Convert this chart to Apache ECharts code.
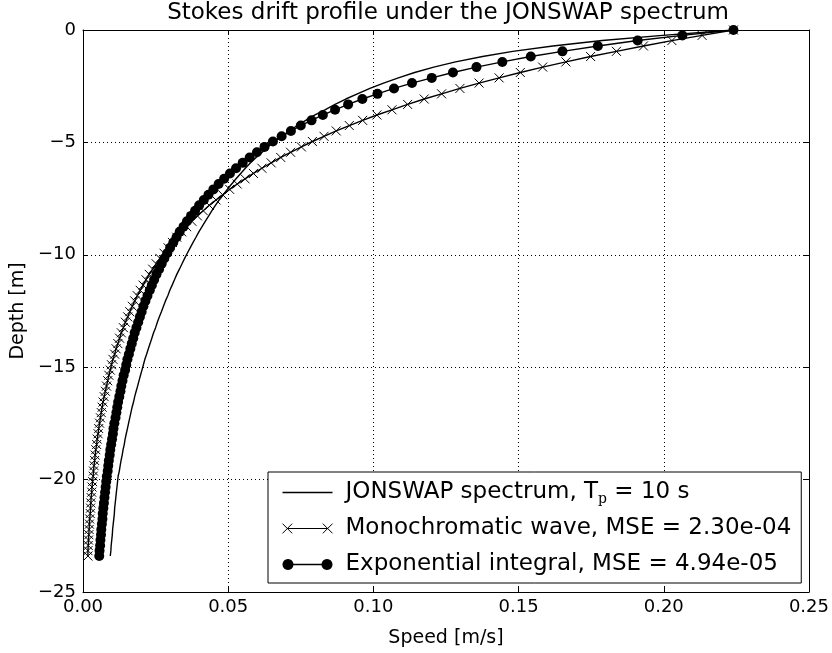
<!DOCTYPE html>
<html>
<head>
<meta charset="utf-8">
<script src="https://cdn.jsdelivr.net/npm/echarts@6/dist/echarts.min.js"></script>
<style>
html,body{margin:0;padding:0;background:#fff;}
#chart{width:832px;height:653px;}
</style>
</head>
<body>
<div id="chart"></div>
<script>
// ---- data ----
const depth = [0, -0.24, -0.47, -0.71, -0.95, -1.18, -1.42, -1.65, -1.89, -2.13,
  -2.36, -2.60, -2.84, -3.07, -3.31, -3.55, -3.78, -4.02, -4.25, -4.49,
  -4.73, -4.96, -5.20, -5.44, -5.67, -5.91, -6.15, -6.38, -6.62, -6.85,
  -7.09, -7.33, -7.56, -7.80, -8.04, -8.27, -8.51, -8.75, -8.98, -9.22,
  -9.45, -9.69, -9.93, -10.16, -10.40, -10.64, -10.87, -11.11, -11.35, -11.58,
  -11.82, -12.05, -12.29, -12.53, -12.76, -13.00, -13.24, -13.47, -13.71, -13.95,
  -14.18, -14.42, -14.65, -14.89, -15.13, -15.36, -15.60, -15.84, -16.07, -16.31,
  -16.55, -16.78, -17.02, -17.25, -17.49, -17.73, -17.96, -18.20, -18.44, -18.67,
  -18.91, -19.15, -19.38, -19.62, -19.85, -20.09, -20.33, -20.56, -20.80, -21.04,
  -21.27, -21.51, -21.75, -21.98, -22.22, -22.45, -22.69, -22.93, -23.16, -23.40];

const jonswap = [0.2240, 0.1996, 0.1788, 0.1618, 0.1480, 0.1376, 0.1283, 0.1208, 0.1142, 0.1086,
  0.1035, 0.0988, 0.0945, 0.0905, 0.0868, 0.0833, 0.0799, 0.0767, 0.0738, 0.0711,
  0.0685, 0.0659, 0.0637, 0.0617, 0.0596, 0.0577, 0.0559, 0.0543, 0.0527, 0.0512,
  0.0497, 0.0483, 0.0469, 0.0456, 0.0444, 0.0433, 0.0421, 0.0410, 0.0399, 0.0389,
  0.0379, 0.0369, 0.0359, 0.0350, 0.0341, 0.0332, 0.0323, 0.0315, 0.0307, 0.0299,
  0.0292, 0.0284, 0.0277, 0.0270, 0.0263, 0.0256, 0.0250, 0.0243, 0.0237, 0.0231,
  0.0225, 0.0219, 0.0213, 0.0208, 0.0203, 0.0198, 0.0193, 0.0188, 0.0183, 0.0178,
  0.0174, 0.0169, 0.0165, 0.0161, 0.0157, 0.0153, 0.0149, 0.0145, 0.0142, 0.0138,
  0.0135, 0.0131, 0.0128, 0.0125, 0.0121, 0.0119, 0.0117, 0.0115, 0.0113, 0.0111,
  0.0109, 0.0108, 0.0106, 0.0104, 0.0102, 0.0101, 0.0099, 0.0097, 0.0096, 0.0094];

const mono = [0.2240, 0.2132, 0.2028, 0.1930, 0.1837, 0.1748, 0.1663, 0.1583, 0.1506, 0.1433,
  0.1364, 0.1298, 0.1235, 0.1175, 0.1118, 0.1064, 0.1012, 0.0963, 0.0917, 0.0872,
  0.0830, 0.0790, 0.0752, 0.0715, 0.0681, 0.0648, 0.0616, 0.0587, 0.0558, 0.0531,
  0.0505, 0.0481, 0.0458, 0.0435, 0.0414, 0.0394, 0.0375, 0.0357, 0.0340, 0.0323,
  0.0308, 0.0293, 0.0279, 0.0265, 0.0252, 0.0240, 0.0228, 0.0217, 0.0207, 0.0197,
  0.0187, 0.0178, 0.0170, 0.0161, 0.0154, 0.0146, 0.0139, 0.0132, 0.0126, 0.0120,
  0.0114, 0.0109, 0.0103, 0.0098, 0.0094, 0.0089, 0.0085, 0.0081, 0.0077, 0.0073,
  0.0069, 0.0066, 0.0063, 0.0060, 0.0057, 0.0054, 0.0052, 0.0049, 0.0047, 0.0044,
  0.0042, 0.0040, 0.0038, 0.0036, 0.0035, 0.0033, 0.0031, 0.0030, 0.0028, 0.0027,
  0.0026, 0.0025, 0.0023, 0.0022, 0.0021, 0.0020, 0.0019, 0.0018, 0.0017, 0.0017];

const expint = [0.2240, 0.2064, 0.1910, 0.1773, 0.1651, 0.1542, 0.1444, 0.1355, 0.1274, 0.1201,
  0.1133, 0.1071, 0.1014, 0.0962, 0.0913, 0.0868, 0.0826, 0.0787, 0.0750, 0.0716,
  0.0684, 0.0654, 0.0625, 0.0599, 0.0574, 0.0550, 0.0527, 0.0506, 0.0486, 0.0467,
  0.0449, 0.0432, 0.0416, 0.0400, 0.0386, 0.0372, 0.0358, 0.0346, 0.0333, 0.0322,
  0.0311, 0.0300, 0.0290, 0.0280, 0.0271, 0.0262, 0.0253, 0.0245, 0.0237, 0.0230,
  0.0222, 0.0215, 0.0208, 0.0202, 0.0196, 0.0190, 0.0184, 0.0178, 0.0173, 0.0168,
  0.0163, 0.0158, 0.0153, 0.0149, 0.0145, 0.0140, 0.0136, 0.0132, 0.0129, 0.0125,
  0.0121, 0.0118, 0.0115, 0.0112, 0.0108, 0.0105, 0.0103, 0.0100, 0.0097, 0.0094,
  0.0092, 0.0089, 0.0087, 0.0085, 0.0082, 0.0080, 0.0078, 0.0076, 0.0074, 0.0072,
  0.0070, 0.0068, 0.0067, 0.0065, 0.0063, 0.0062, 0.0060, 0.0059, 0.0057, 0.0056];

const speedTicks = [0.00, 0.05, 0.10, 0.15, 0.20, 0.25];
const depthTicks = [0, -5, -10, -15, -20, -25];

const seriesNames = [
  'JONSWAP spectrum, T_p = 10 s',
  'Monochromatic wave, MSE = 2.30e-04',
  'Exponential integral, MSE = 4.94e-05'
];
const titleText = 'Stokes drift profile under the JONSWAP spectrum';
const xName = 'Speed [m/s]';
const yName = 'Depth [m]';

// ---- chart ----
const FONT = 'DejaVu Sans';
const chart = echarts.init(document.getElementById('chart'), null, {renderer: 'canvas'});

const pairs = vals => vals.map((v, i) => [v, depth[i]]);
const xMin = speedTicks[0], xMax = speedTicks[speedTicks.length - 1];
const xInt = speedTicks[1] - speedTicks[0];
const yMin = depthTicks[depthTicks.length - 1], yMax = depthTicks[0];
const yInt = depthTicks[0] - depthTicks[1];

const crossPath = 'path://M0,0L10,10M0,10L10,0';

// legend icon geometry (polygonal disc)
function discPath(cx, cy, r) {
  let s = '';
  for (let k = 0; k < 24; k++) {
    const a = k / 24 * Math.PI * 2;
    s += (k === 0 ? 'M' : 'L') + (cx + r * Math.cos(a)).toFixed(2) + ',' + (cy + r * Math.sin(a)).toFixed(2);
  }
  return s + 'Z';
}
const discIcon = 'path://' + discPath(5.5, 5.5, 5.5) + discPath(44.5, 5.5, 5.5) + 'M5,4.8L45,4.8L45,6.2L5,6.2Z';

const baseAxis = {
  axisLine: {show: true, onZero: false, lineStyle: {color: '#000', width: 1}},
  axisTick: {show: true, inside: true, length: 5, lineStyle: {color: '#000', width: 1}},
};

const option = {
  backgroundColor: '#fff',
  animation: false,
  title: {
    text: titleText,
    left: 448,
    top: 2,
    textAlign: 'center',
    padding: 0,
    textStyle: {fontFamily: FONT, fontSize: 23, fontWeight: 'normal', color: '#000'}
  },
  grid: {left: 83, right: 19, top: 30, bottom: 57, containLabel: false},
  legend: {
    orient: 'vertical',
    left: 268,
    top: 472,
    padding: [7, 10, 5, 14],
    backgroundColor: '#fff',
    borderColor: '#000',
    borderWidth: 1,
    borderRadius: 0,
    itemWidth: 50,
    itemHeight: 12,
    itemGap: 9,
    symbolKeepAspect: true,
    textStyle: {
      fontFamily: FONT, fontSize: 23, color: '#000', lineHeight: 27, padding: [0, 0, 0, 8],
      rich: {
        sub: {fontFamily: 'DejaVu Serif', fontSize: 14, lineHeight: 14, verticalAlign: 'bottom', color: '#000'}
      }
    },
    formatter: name => name.replace('T_p', 'T{sub|p}'),
    data: [
      {name: seriesNames[0], icon: 'path://M0,5.2L50,5.2L50,6.6L0,6.6Z',
        itemStyle: {color: '#000', borderWidth: 0}},
      {name: seriesNames[1], icon: 'path://M0.5,1L10,10.5M0.5,10.5L10,1M5.25,5.75L44.75,5.75M40,1L49.5,10.5M40,10.5L49.5,1',
        itemStyle: {color: 'transparent', borderColor: '#000', borderWidth: 1}},
      {name: seriesNames[2], icon: discIcon,
        itemStyle: {color: '#000', borderWidth: 0}}
    ]
  },
  xAxis: [
    Object.assign({}, baseAxis, {
      type: 'value', position: 'bottom', min: xMin, max: xMax, interval: xInt,
      name: xName, nameLocation: 'middle', nameGap: 37,
      nameTextStyle: {fontFamily: FONT, fontSize: 19, color: '#000'},
      axisLabel: {show: true, margin: 6, fontFamily: FONT, fontSize: 18, color: '#000',
        formatter: v => v.toFixed(2)},
      splitLine: {show: true, lineStyle: {color: '#000', width: 1, type: [1, 3]}}
    }),
    Object.assign({}, baseAxis, {
      type: 'value', position: 'top', min: xMin, max: xMax, interval: xInt,
      axisLabel: {show: false}, splitLine: {show: false}
    })
  ],
  yAxis: [
    Object.assign({}, baseAxis, {
      type: 'value', position: 'left', min: yMin, max: yMax, interval: yInt,
      name: yName, nameLocation: 'middle', nameGap: 47,
      nameTextStyle: {fontFamily: FONT, fontSize: 19, color: '#000'},
      axisLabel: {show: true, margin: 7, fontFamily: FONT, fontSize: 18, color: '#000',
        formatter: v => v === 0 ? '0' : (v < 0 ? '\u2212' + Math.abs(v) : String(v))},
      splitLine: {show: true, lineStyle: {color: '#000', width: 1, type: [1, 3]}}
    }),
    Object.assign({}, baseAxis, {
      type: 'value', position: 'right', min: yMin, max: yMax, interval: yInt,
      axisLabel: {show: false}, splitLine: {show: false}
    })
  ],
  series: [
    {
      name: seriesNames[0], type: 'line', xAxisIndex: 0, yAxisIndex: 0,
      data: pairs(jonswap), showSymbol: false, symbol: 'none',
      lineStyle: {color: '#000', width: 1.4}, itemStyle: {color: '#000'}, z: 2
    },
    {
      name: seriesNames[1], type: 'line', xAxisIndex: 0, yAxisIndex: 0,
      data: pairs(mono), symbol: crossPath, symbolSize: 9, showAllSymbol: true,
      lineStyle: {color: '#000', width: 1.4},
      itemStyle: {color: 'transparent', borderColor: '#000', borderWidth: 1}, z: 3
    },
    {
      name: seriesNames[2], type: 'line', xAxisIndex: 0, yAxisIndex: 0,
      data: pairs(expint), symbol: 'circle', symbolSize: 10, showAllSymbol: true,
      lineStyle: {color: '#000', width: 1.4},
      itemStyle: {color: '#000', borderWidth: 0}, z: 4
    }
  ]
};
chart.setOption(option);
</script>
</body>
</html>
